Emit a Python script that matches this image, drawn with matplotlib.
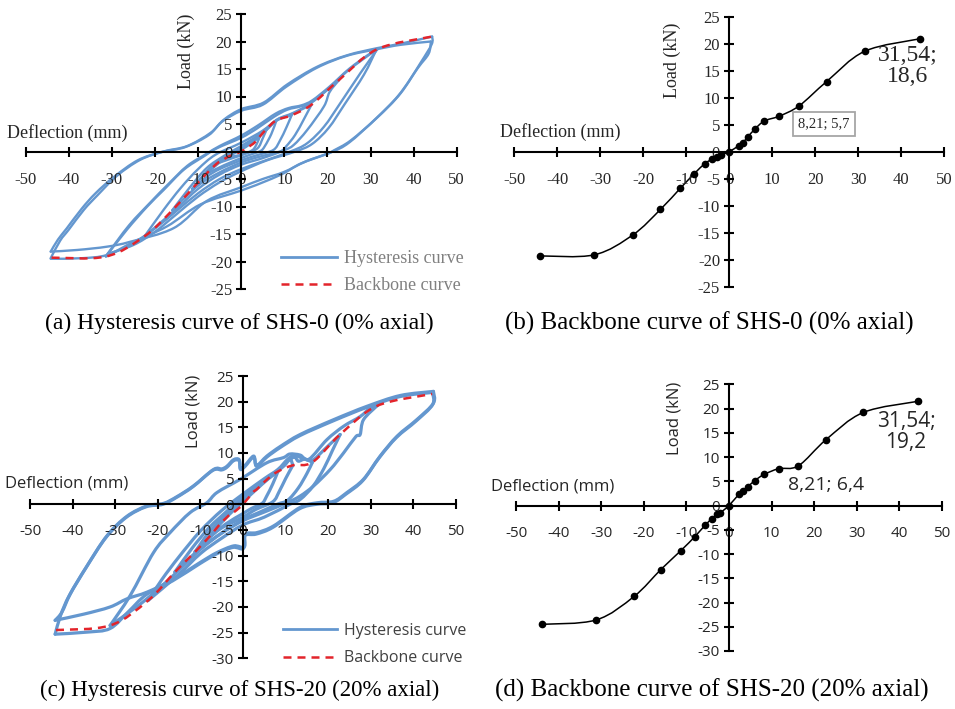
import numpy as np
import matplotlib
matplotlib.use("Agg")
import matplotlib.pyplot as plt
from matplotlib.path import Path
from matplotlib.patches import PathPatch
from matplotlib.lines import Line2D

plt.rcParams['axes.unicode_minus'] = False

# ---- backbone points (deflection mm, load kN) ----
A_BB_X = [-44.0, -31.4, -22.4, -16.0, -11.4, -8.15, -5.66, -4.0, -2.9, -1.9, 0,
          2.2, 3.2, 4.3, 6.0, 8.21, 11.7, 16.3, 22.7, 31.54, 44.3]
A_BB_Y = [-19.3, -19.1, -15.4, -10.7, -6.8, -4.1, -2.2, -1.4, -0.9, -0.6, 0,
          1.1, 1.7, 2.7, 4.2, 5.7, 6.6, 8.5, 13.0, 18.6, 20.9]

C_BB_X = [-43.9, -31.2, -22.3, -16.0, -11.3, -8.0, -5.6, -4.0, -2.7, -2.0, 0,
          2.3, 3.2, 4.4, 6.0, 8.21, 11.7, 16.3, 22.8, 31.54, 44.4]
C_BB_Y = [-24.5, -23.6, -18.75, -13.2, -9.3, -6.4, -4.05, -2.7, -1.7, -1.45, 0,
          2.3, 2.9, 3.85, 5.1, 6.4, 7.6, 8.2, 13.6, 19.2, 21.5]

# ---- hysteresis loops, SHS-0 ----
A_LOOP_4 = [(-4.0, -1.4), (-2, -0.4), (0, 0.3), (2.5, 1.6), (4.3, 2.7), (3.5, 1.2),
            (2.5, 0.2), (0, -0.6), (-2, -0.9), (-4.0, -1.4)]
A_LOOP_6 = [(-5.66, -2.2), (-3, -0.8), (0, 0.5), (3, 2.2), (6.0, 4.2), (5, 2.4),
            (3.8, 0.6), (1, -0.4), (-2, -1.2), (-5.66, -2.2)]
A_LOOP_8 = [(-8.15, -4.1), (-5, -2.0), (-2, -0.5), (0, 0.4), (3, 2.0), (6, 4.0),
            (8.2, 5.7), (7, 3.2), (5.5, 1.0), (4.5, 0.1), (2, -0.6), (0, -1.2),
            (-4, -2.5), (-8.15, -4.1)]
A_LOOP_12 = [(-11.4, -6.8), (-8, -3.6), (-5, -1.6), (0, 0.6), (4, 2.6), (8.2, 5.7),
             (11.7, 6.6), (10.5, 4.4), (9, 2.0), (7.5, 0.3), (4, -0.6), (0, -1.6),
             (-5, -3.2), (-8, -4.6), (-11.4, -6.8)]
A_LOOP_16 = [(-16.0, -10.7), (-12, -6.6), (-8, -3.0), (-4, -0.8), (0, 1.0), (4, 3.0),
             (8, 5.5), (11.7, 6.8), (16.3, 8.5), (14.5, 5.8), (12.5, 3.0), (10.5, 1.0),
             (9, 0.0), (4, -1.0), (0, -2.0), (-5, -3.8), (-10, -6.2), (-16.0, -10.7)]
A_LOOP_22 = [(-22.4, -15.4), (-18, -10.6), (-14, -6.6), (-10, -3.2), (-6, -0.6),
             (0, 1.6), (5, 3.8), (8.5, 5.9), (12, 7.0), (16, 8.7), (20, 11.3),
             (22.7, 13.0), (20.5, 10.8), (19.2, 8.2), (15.3, 3.9), (12.2, 1.2),
             (9.9, 0.2), (5, -1.2), (0, -2.4), (-5, -4.2), (-10, -6.8), (-15, -10.4),
             (-22.4, -15.4)]
A_LOOP_31 = [(-31.4, -19.1), (-26.5, -14.2), (-21.8, -10.0), (-18, -7.0), (-13.3, -3.3),
             (-8.7, -0.9), (-5.6, 0.6), (0, 2.5), (3.7, 4.2), (7.6, 6.3), (10.7, 7.6),
             (13.8, 8.2), (16.1, 8.9), (20, 11.2), (24.6, 14.6), (29.2, 17.3),
             (31.6, 18.6), (27.7, 14.3), (23, 8.8), (19.2, 4.5), (15.3, 1.5),
             (11.4, 0.0), (5, -1.8), (0, -3.2), (-5, -5.0), (-10, -7.6), (-15, -10.8),
             (-20, -14.0), (-25, -16.6), (-31.4, -19.1)]
A_LOOP_31B = [(-31.0, -18.6), (-26.0, -13.4), (-21.0, -9.2), (-17.0, -6.0),
              (-12.5, -2.6), (-8.0, -0.4), (-5.0, 1.0), (0, 2.9), (4.0, 4.8),
              (8.0, 6.9), (11.0, 7.9), (14.0, 8.4), (16.5, 9.3), (20.5, 11.8),
              (25.0, 15.0), (29.5, 17.6), (31.3, 18.4), (28.5, 14.0), (24.0, 8.6),
              (20.3, 4.3), (16.5, 1.4), (12.6, 0.0), (6, -1.6), (0, -3.6), (-5, -5.6),
              (-10, -8.2), (-15, -11.4), (-20, -14.6), (-25, -17.0), (-31.0, -18.6)]
A_LOOP_44 = [(-44.2, -19.4), (-42, -16.2), (-40, -14.2), (-36.5, -10.6), (-33.4, -8.0),
             (-28.8, -4.4), (-23.4, -1.5), (-18, 0.0), (-12.5, 1.0), (-7.1, 3.4),
             (-4, 5.8), (0, 7.7), (5.2, 8.9), (10.7, 12.2), (17.6, 15.4), (24.6, 17.5),
             (31.6, 18.8), (37, 19.6), (44.3, 20.9), (44.2, 19.5), (41.6, 16.1),
             (37, 10.6), (31.6, 6.2), (25.4, 2.0), (21.5, 0.2), (20, -0.4),
             (13.8, -2.2), (10, -3.9), (6, -5.3), (0, -7.1), (-9.4, -9.6),
             (-17.2, -13.6), (-24.9, -16.4), (-31.1, -18.8), (-37, -19.4),
             (-44.2, -19.5)]
A_LOOP_44B = [(-44.2, -18.2), (-42.5, -16.0), (-40.5, -14.0), (-37, -10.4),
              (-33.8, -7.6), (-29.5, -4.6), (-24, -1.6), (-18.5, -0.1), (-13, 0.8),
              (-7.5, 3.0), (-4.5, 5.4), (0, 7.4), (5, 8.5), (10.5, 11.8), (17.5, 15.2),
              (24.5, 17.4), (31.5, 18.6), (37, 19.4), (44.0, 20.0), (43.5, 17.8),
              (41, 15.2), (36.5, 10.2), (31, 5.8), (25, 1.6), (21, -0.1), (15, -1.8),
              (10, -3.7), (5, -5.0), (0, -6.5), (-8, -9.0), (-15.6, -13.9),
              (-25.7, -16.4), (-31.1, -17.3), (-38, -17.9), (-44.2, -18.2)]

# ---- hysteresis loops, SHS-20 ----
C_LOOP_8 = [(-8.0, -6.4), (-5, -3.5), (-2, -1.0), (0, 0.5), (3, 2.8), (6, 5.0),
            (8.2, 6.4), (7, 4.0), (5.5, 1.5), (4.5, 0.2), (2, -0.8), (0, -1.8),
            (-4, -3.8), (-8.0, -6.4)]
C_LOOP_12 = [(-11.3, -9.3), (-8, -5.5), (-4, -2.0), (0, 1.0), (4, 3.8), (8.2, 6.5),
             (10, 7.8), (11, 9.0), (11.7, 7.6), (10, 5.0), (8.5, 2.5), (7, 0.5),
             (3, -1.0), (0, -2.5), (-5, -4.6), (-8, -6.6), (-11.3, -9.3)]
C_LOOP_16 = [(-16.0, -13.2), (-12, -8.6), (-8, -4.6), (-4, -1.5), (0, 1.5), (4, 4.0),
             (8.2, 6.6), (10, 8.0), (12, 9.2), (13, 8.4), (14.5, 8.8), (16.3, 8.2),
             (15, 6.0), (13, 3.2), (10.5, 0.8), (8, 0.0), (4, -1.5), (0, -3.0),
             (-5, -5.6), (-10, -8.6), (-16.0, -13.2)]
C_LOOP_22 = [(-22.3, -18.75), (-19, -14.6), (-15, -10.2), (-10, -5.2), (-5, -1.2),
             (0, 2.0), (5, 5.0), (8.2, 6.8), (10.5, 8.8), (12, 9.5), (14, 9.0),
             (16.3, 8.6), (19, 10.6), (22.8, 13.6), (21, 10.5), (19, 7.0), (16.5, 3.6),
             (13.5, 1.0), (11, 0.0), (5, -2.5), (0, -4.0), (-5, -6.6), (-10, -9.6),
             (-15, -13.6), (-22.3, -18.75)]
C_LOOP_31 = [(-31.2, -23.6), (-26.5, -17.8), (-21, -9.4), (-17.1, -5.5), (-12.4, -1.6),
             (-8.5, 0.3), (-6.1, 2.3), (-0.6, 4.9), (5.6, 8.1), (9.5, 9.1), (11, 9.8),
             (13.4, 9.6), (15.5, 8.8), (19.7, 12.6), (23.6, 15.2), (27.5, 17.1),
             (29.9, 18.8), (31.6, 19.3), (28.3, 16.5), (27.5, 13.6), (26.5, 13.2),
             (23.6, 10.0), (20.5, 6.8), (16.6, 3.6), (13.4, 1.6), (10.3, 0.3),
             (5, -1.5), (0, -3.2), (-5, -5.6), (-10, -8.8), (-15, -12.8), (-20, -16.6),
             (-25, -20.0), (-31.2, -23.6)]
C_LOOP_44A = [(-44.1, -25.3), (-42.8, -21.6), (-40.8, -17.8), (-36.9, -12.4),
              (-32.2, -6.5), (-27.5, -2.6), (-22.8, -0.5), (-18.8, 0.0), (-15.7, 1.3),
              (-11.8, 3.4), (-7.1, 6.6), (-5, 6.7), (-3.8, 7.2), (-2.2, 8.5),
              (-0.9, 8.5), (-0.6, 6.8), (0.5, 7.4), (2.5, 9.2), (3.2, 7.4), (5.6, 9.2),
              (8.8, 11.1), (13.4, 13.4), (21.3, 16.3), (29.1, 18.9), (36.9, 21.0),
              (44.5, 21.8), (44.5, 19.4), (40.6, 16.2), (36.0, 13.0), (32.0, 9.1),
              (28.1, 4.6), (24.2, 2.0), (21.1, 0.3), (17.2, 0.0), (13.2, -0.9),
              (7.0, -4.5), (3.1, -5.8), (0.4, -6.1), (0.1, -8.6), (-2.4, -8.4),
              (-6.3, -9.7), (-10.2, -11.6), (-16.5, -14.9), (-22.7, -17.6),
              (-27.0, -21.0), (-31.2, -24.2), (-36.6, -24.9), (-44.1, -25.3)]
C_LOOP_44B = [(-44.1, -22.6), (-42.5, -21.0), (-40.5, -17.4), (-36.6, -12.0),
              (-31.9, -6.1), (-27.2, -2.3), (-22.5, -0.3), (-18.6, 0.2), (-15.5, 1.5),
              (-11.6, 3.6), (-6.9, 6.8), (-5, 6.9), (-3.8, 7.4), (-2.2, 8.7),
              (-0.9, 8.7), (-0.6, 7.0), (0.5, 7.6), (2.5, 9.4), (3.2, 7.6), (5.6, 9.4),
              (8.8, 11.3), (13.4, 13.6), (21.3, 16.5), (29.1, 19.1), (36.9, 21.2),
              (44.7, 22.0), (44.7, 19.7), (40.8, 16.5), (36.2, 13.3), (32.2, 9.4),
              (28.3, 4.9), (24.4, 2.3), (21.3, 0.6), (17.4, 0.3), (13.4, -0.6),
              (7.2, -4.2), (3.3, -5.5), (0.6, -5.8), (0.3, -8.3), (-2.2, -8.1),
              (-6.1, -9.4), (-10, -11.3), (-16.3, -14.6), (-22.5, -17.1),
              (-27.2, -18.4), (-31.2, -20.0), (-37.4, -21.4), (-44.1, -22.6)]

A_LOOPS = [A_LOOP_4, A_LOOP_6, A_LOOP_8, A_LOOP_12, A_LOOP_16, A_LOOP_22,
           A_LOOP_31, A_LOOP_31B, A_LOOP_44, A_LOOP_44B]
C_LOOPS = [C_LOOP_8, C_LOOP_12, C_LOOP_16, C_LOOP_22, C_LOOP_31, C_LOOP_44A, C_LOOP_44B]

X_TICKS = list(range(-50, 51, 10))

BLUE = '#6497CF'
RED = '#E3242B'
SERIF = 'Liberation Serif'
SANS = 'Open Sans'

W, H = 955, 709


def fx(px):
    return px / W


def fy(py):
    return 1 - py / H


def smooth_path(xs, ys):
    # excel-like smoothed line: catmull-rom converted to cubic bezier
    pts = np.column_stack([xs, ys]).astype(float)
    n = len(pts)
    verts = [pts[0]]
    codes = [Path.MOVETO]
    for i in range(n - 1):
        p0 = pts[i - 1] if i > 0 else pts[i]
        p1, p2 = pts[i], pts[i + 1]
        p3 = pts[i + 2] if i + 2 < n else pts[i + 1]
        verts += [p1 + (p2 - p0) / 6, p2 - (p3 - p1) / 6, p2]
        codes += [Path.CURVE4] * 3
    return Path(verts, codes)


def draw_loop(ax, loop, lw):
    xs = [p[0] for p in loop]
    ys = [p[1] for p in loop]
    k = int(np.argmax(xs))
    for seg in (slice(0, k + 1), slice(k, None)):
        ax.add_patch(PathPatch(smooth_path(xs[seg], ys[seg]), fill=False,
                               edgecolor=BLUE, lw=lw, capstyle='round',
                               joinstyle='round'))


def style_axis(ax, ylo, yhi, family, fs):
    ax.set_xlim(-50, 50)
    ax.set_ylim(ylo, yhi)
    ax.patch.set_visible(False)
    for s in ('top', 'right'):
        ax.spines[s].set_visible(False)
    for s in ('left', 'bottom'):
        ax.spines[s].set_position('zero')
        ax.spines[s].set_linewidth(1.5)
    yt = list(range(ylo, yhi + 1, 5))
    ax.set_xticks(X_TICKS, [str(v) for v in X_TICKS], family=family, fontsize=fs,
                  color='#262626')
    ax.set_yticks(yt, [str(v) for v in yt], family=family, fontsize=fs, color='#262626')
    ax.tick_params(axis='x', direction='inout', length=7, width=1.5, pad=11)
    ax.tick_params(axis='y', direction='inout', length=7, width=1.5, pad=3)


fig = plt.figure(figsize=(W / 100, H / 100), dpi=100)

axA = fig.add_axes([25.7 / W, 1 - 289 / H, 431 / W, 275 / H])
axB = fig.add_axes([514.3 / W, 1 - 286.7 / H, 429.7 / W, 270 / H])
axC = fig.add_axes([30 / W, 1 - 658.3 / H, 426 / W, 282.3 / H])
axD = fig.add_axes([516 / W, 1 - 651 / H, 426 / W, 266.7 / H])

style_axis(axA, -25, 25, SERIF, 12)
style_axis(axB, -25, 25, SERIF, 12)
style_axis(axC, -30, 25, SANS, 11)
style_axis(axD, -30, 25, SANS, 11)

# (a) hysteresis SHS-0
for lp in A_LOOPS:
    draw_loop(axA, lp, 1.7)
axA.add_patch(PathPatch(smooth_path(A_BB_X, A_BB_Y), fill=False, edgecolor=RED,
                        lw=1.8, linestyle=(0, (3.2, 2.4))))

# (c) hysteresis SHS-20
for lp in C_LOOPS:
    draw_loop(axC, lp, 2.3)
axC.add_patch(PathPatch(smooth_path(C_BB_X, C_BB_Y), fill=False, edgecolor=RED,
                        lw=1.8, linestyle=(0, (3.2, 2.4))))

# (b), (d) backbone curves
for ax, bx, by in ((axB, A_BB_X, A_BB_Y), (axD, C_BB_X, C_BB_Y)):
    ax.add_patch(PathPatch(smooth_path(bx, by), fill=False, edgecolor='black', lw=1.1))
    ax.plot(bx, by, 'o', color='black', ms=4.5, zorder=3)

# legends
handles = [Line2D([], [], color=BLUE, lw=2),
           Line2D([], [], color=RED, lw=1.8, linestyle=(0, (3.2, 2.4)))]
labels = ['Hysteresis curve', 'Backbone curve']
legA = axA.legend(handles, labels, loc='upper left', bbox_to_anchor=(fx(281), fy(250)),
                  bbox_transform=fig.transFigure, frameon=False, borderpad=0,
                  borderaxespad=0, handlelength=3.1, handletextpad=0.4,
                  labelspacing=0.55, prop={'family': SERIF, 'size': 13})
for t in legA.get_texts():
    t.set_color('#808080')
legC = axC.legend(handles, labels, loc='upper left', bbox_to_anchor=(fx(283), fy(623)),
                  bbox_transform=fig.transFigure, frameon=False, borderpad=0,
                  borderaxespad=0, handlelength=3.4, handletextpad=0.4,
                  labelspacing=0.7, prop={'family': SANS, 'size': 11.5})
for t in legC.get_texts():
    t.set_color('#404040')

# axis titles
tc = '#262626'
fig.text(fx(67.5), fy(132.7), 'Deflection (mm)', ha='center', va='center',
         family=SERIF, fontsize=13, color=tc)
fig.text(fx(186.7), fy(51), 'Load (kN)', ha='center', va='center', rotation=90,
         family=SERIF, fontsize=13, color=tc)
fig.text(fx(560), fy(132.3), 'Deflection (mm)', ha='center', va='center',
         family=SERIF, fontsize=13, color=tc)
fig.text(fx(672.7), fy(60), 'Load (kN)', ha='center', va='center', rotation=90,
         family=SERIF, fontsize=13, color=tc)
fig.text(fx(66.8), fy(484), 'Deflection (mm)', ha='center', va='center',
         family=SANS, fontsize=12, color=tc)
fig.text(fx(193.3), fy(411), 'Load (kN)', ha='center', va='center', rotation=90,
         family=SANS, fontsize=12, color=tc)
fig.text(fx(552.5), fy(486.7), 'Deflection (mm)', ha='center', va='center',
         family=SANS, fontsize=12, color=tc)
fig.text(fx(674.3), fy(418), 'Load (kN)', ha='center', va='center', rotation=90,
         family=SANS, fontsize=12, color=tc)

# data labels
fig.text(fx(908), fy(66), '31,54;\n18,6', ha='center', va='center', family=SERIF,
         fontsize=17, color=tc, linespacing=1.0)
fig.text(fx(824), fy(124), '8,21; 5,7', ha='center', va='center', family=SERIF,
         fontsize=10.5, color=tc,
         bbox=dict(boxstyle='square,pad=0.35', fc='white', ec='#A6A6A6', lw=1.3))
fig.text(fx(906), fy(432), '31,54;\n19,2', ha='center', va='center', family=SANS,
         fontsize=15, color=tc, linespacing=1.05)
fig.text(fx(826), fy(485), '8,21; 6,4', ha='center', va='center', family=SANS,
         fontsize=14, color=tc)

# captions
cap = dict(ha='center', va='center', family=SERIF, color='black')
fig.text(fx(239), fy(323), '(a) Hysteresis curve of SHS-0 (0% axial)', fontsize=17, **cap)
fig.text(fx(709), fy(323), '(b) Backbone curve of SHS-0 (0% axial)', fontsize=18, **cap)
fig.text(fx(240), fy(690), '(c) Hysteresis curve of SHS-20 (20% axial)', fontsize=16.5,
         **cap)
fig.text(fx(712), fy(690), '(d) Backbone curve of SHS-20 (20% axial)', fontsize=18, **cap)

fig.savefig('out.png', dpi=100)
